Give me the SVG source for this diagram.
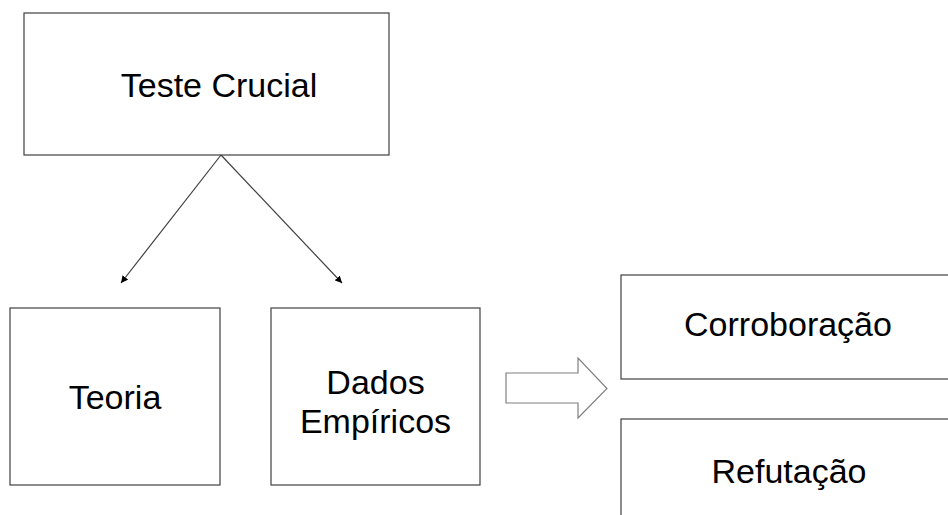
<svg xmlns="http://www.w3.org/2000/svg" width="948" height="515" viewBox="0 0 948 515">
<style>
.box{fill:#ffffff;stroke:#404040;stroke-width:1.2}
.lbl{font-family:"Liberation Sans",Arial,sans-serif;font-size:34px;fill:#000;text-anchor:middle}
.conn{stroke:#404040;stroke-width:1.2;fill:none}
.block{fill:#ffffff;stroke:#808080;stroke-width:1.2}
</style>
<defs>
<marker id="ah" viewBox="0 0 10 10" refX="10" refY="5" markerWidth="7" markerHeight="7" markerUnits="userSpaceOnUse" orient="auto">
<path d="M0,0 L10,5 L0,10 z" fill="#000"/>
</marker>
</defs>
<rect width="948" height="515" fill="#ffffff"/>
<g id="teste-crucial">
<rect class="box" x="24" y="13" width="365" height="142"/>
<text class="lbl" x="219" y="97">Teste Crucial</text>
</g>
<g id="teoria">
<rect class="box" x="10" y="308" width="210" height="177"/>
<text class="lbl" x="115" y="409">Teoria</text>
</g>
<g id="dados-empiricos">
<rect class="box" x="271" y="308" width="209" height="177"/>
<text class="lbl" x="375.5" y="394">Dados<tspan x="375.5" y="433">Empíricos</tspan></text>
</g>
<g id="corroboracao">
<rect class="box" x="621" y="275" width="340" height="104"/>
<text class="lbl" x="788" y="336">Corroboração</text>
</g>
<g id="refutacao">
<rect class="box" x="621" y="419" width="340" height="110"/>
<text class="lbl" x="789" y="483">Refutação</text>
</g>
<g id="connectors">
<line class="conn" x1="221" y1="155" x2="121" y2="283" marker-end="url(#ah)"/>
<line class="conn" x1="221" y1="155" x2="342" y2="283" marker-end="url(#ah)"/>
<path class="block" d="M506,373 L578,373 L578,358 L607,388.5 L578,418 L578,403 L506,403 Z"/>
</g>
</svg>
